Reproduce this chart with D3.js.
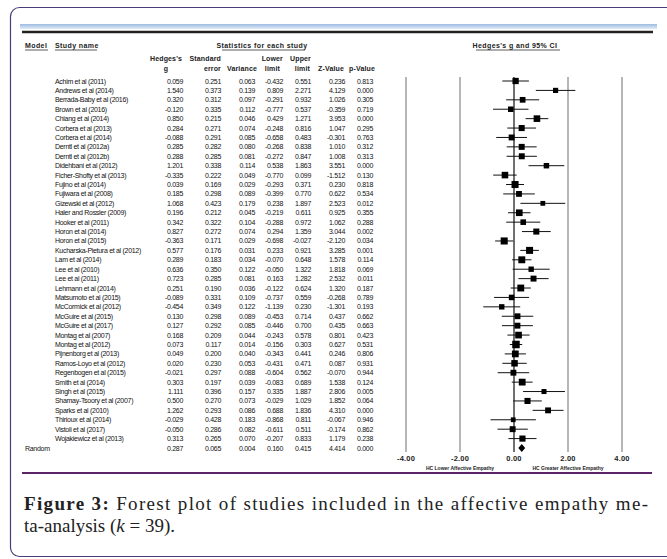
<!DOCTYPE html>
<html lang="en">

<head>
    <meta charset="UTF-8">
    <script src="https://d3js.org/d3.v7.min.js"></script>
    <title>Forest plot</title>
    <style>
        body { margin: 0; background: #fff; }
        .hdr { font-family: "Liberation Sans", Arial, sans-serif; font-weight: bold; font-size: 7px; letter-spacing: 0.15px; fill: #222; }
        .cell { font-family: "Liberation Sans", Arial, sans-serif; font-size: 7px; letter-spacing: -0.3px; fill: #111; }
        .cap { font-family: "Liberation Serif", "Times New Roman", serif; font-size: 19px; fill: #222; }
    </style>
</head>

<body>
    <script>
        // Study data
        var studies = ["Achim et al (2011)", "Andrews et al (2014)", "Berrada-Baby et al (2016)", "Brown et al (2016)",
            "Chiang et al (2014)", "Corbera et al (2013)", "Corbera et al (2014)", "Derntl et al (2012a)",
            "Derntl et al (2012b)", "Didehbani et al (2012)", "Ficher-Shofty et al (2013)", "Fujino et al (2014)",
            "Fujiwara et al (2008)", "Gizewski et al (2012)", "Haler and Rossler (2009)", "Hooker et al (2011)",
            "Horon et al (2014)", "Horon et al (2015)", "Kucharska-Pietura et al (2012)", "Lam et al (2014)",
            "Lee et al (2010)", "Lee et al (2011)", "Lehmann et al (2014)", "Matsumoto et al (2015)",
            "McCormick et al (2012)", "McGuire et al (2015)", "McGuire et al (2017)", "Montag et al (2007)",
            "Montag et al (2012)", "Pijnenborg et al (2013)", "Ramos-Loyo et al (2012)", "Regenbogen et al (2015)",
            "Smith et al (2014)", "Singh et al (2015)", "Shamay-Tsoory et al (2007)", "Sparks et al (2010)",
            "Thirioux et al (2014)", "Vistoli et al (2017)", "Wojakiewicz et al (2013)"];
        var hedgesG = [0.059, 1.540, 0.320, -0.120, 0.850, 0.284, -0.088, 0.285, 0.288, 1.201, -0.335, 0.039, 0.185,
            1.068, 0.196, 0.342, 0.827, -0.363, 0.577, 0.289, 0.636, 0.723, 0.251, -0.089, -0.454, 0.130, 0.127,
            0.168, 0.073, 0.049, 0.020, -0.021, 0.303, 1.111, 0.500, 1.262, -0.029, -0.050, 0.313];
        var stdErr = [0.251, 0.373, 0.312, 0.335, 0.215, 0.271, 0.291, 0.282, 0.285, 0.338, 0.222, 0.169, 0.298,
            0.423, 0.212, 0.322, 0.272, 0.171, 0.176, 0.183, 0.350, 0.285, 0.190, 0.331, 0.349, 0.298, 0.292,
            0.209, 0.117, 0.200, 0.230, 0.297, 0.197, 0.396, 0.270, 0.293, 0.428, 0.286, 0.265];
        var variance = [0.063, 0.139, 0.097, 0.112, 0.046, 0.074, 0.085, 0.080, 0.081, 0.114, 0.049, 0.029, 0.089,
            0.179, 0.045, 0.104, 0.074, 0.029, 0.031, 0.034, 0.122, 0.081, 0.036, 0.109, 0.122, 0.089, 0.085,
            0.044, 0.014, 0.040, 0.053, 0.088, 0.039, 0.157, 0.073, 0.086, 0.183, 0.082, 0.070];
        var lowerLimit = [-0.432, 0.809, -0.291, -0.777, 0.429, -0.248, -0.658, -0.268, -0.272, 0.538, -0.770, -0.293,
            -0.399, 0.238, -0.219, -0.288, 0.294, -0.698, 0.233, -0.070, -0.050, 0.163, -0.122, -0.737, -1.139,
            -0.453, -0.446, -0.243, -0.156, -0.343, -0.431, -0.604, -0.083, 0.335, -0.029, 0.688, -0.868, -0.611, -0.207];
        var upperLimit = [0.551, 2.271, 0.932, 0.537, 1.271, 0.816, 0.483, 0.838, 0.847, 1.863, 0.099, 0.371, 0.770,
            1.897, 0.611, 0.972, 1.359, -0.027, 0.921, 0.648, 1.322, 1.282, 0.624, 0.559, 0.230, 0.714, 0.700,
            0.578, 0.303, 0.441, 0.471, 0.562, 0.689, 1.887, 1.029, 1.836, 0.811, 0.511, 0.833];
        var zValue = [0.236, 4.129, 1.026, -0.359, 3.953, 1.047, -0.301, 1.010, 1.008, 3.551, -1.512, 0.230, 0.622,
            2.523, 0.925, 1.062, 3.044, -2.120, 3.285, 1.578, 1.818, 2.532, 1.320, -0.268, -1.301, 0.437, 0.435,
            0.801, 0.627, 0.246, 0.087, -0.070, 1.538, 2.806, 1.852, 4.310, -0.067, -0.174, 1.179];
        var pValue = [0.813, 0.000, 0.305, 0.719, 0.000, 0.295, 0.763, 0.312, 0.313, 0.000, 0.130, 0.818, 0.534,
            0.012, 0.355, 0.288, 0.002, 0.034, 0.001, 0.114, 0.069, 0.011, 0.187, 0.789, 0.193, 0.662, 0.663,
            0.423, 0.531, 0.806, 0.931, 0.944, 0.124, 0.005, 0.064, 0.000, 0.946, 0.862, 0.238];
        // Random-effects summary row
        var summary = { g: 0.287, se: 0.065, v: 0.004, lo: 0.160, hi: 0.415, z: 4.414, p: 0.000 };
        var axisTicks = [-4, -2, 0, 2, 4];

        var width = 667, height = 559;
        var fmt = function (d) { return d.toFixed(3); };

        var svg = d3.select("body").append("svg")
            .attr("width", width)
            .attr("height", height);

        // Frame and decorative rules
        var defs = svg.append("defs");
        var grad = defs.append("linearGradient").attr("id", "bar").attr("x1", 0).attr("y1", 0).attr("x2", 0).attr("y2", 1);
        grad.append("stop").attr("offset", "0%").attr("stop-color", "#9dbbe2");
        grad.append("stop").attr("offset", "100%").attr("stop-color", "#e3ecf8");

        svg.append("rect")
            .attr("x", 10.5).attr("y", 7.5)
            .attr("width", 700).attr("height", 549)
            .attr("rx", 9)
            .attr("fill", "none")
            .attr("stroke", "#4b3c78")
            .attr("stroke-width", 1.2);

        svg.append("rect")
            .attr("x", 20).attr("y", 24).attr("width", 637).attr("height", 5)
            .attr("fill", "url(#bar)");
        svg.append("line")
            .attr("x1", 22).attr("x2", 653).attr("y1", 32).attr("y2", 32)
            .attr("stroke", "#222").attr("stroke-width", 2.5);
        svg.append("line")
            .attr("x1", 22).attr("x2", 652).attr("y1", 473).attr("y2", 473)
            .attr("stroke", "#5c2466").attr("stroke-width", 2);

        // Header texts
        function hdr(txt, x, y, anchor) {
            return svg.append("text").attr("class", "hdr")
                .attr("x", x).attr("y", y)
                .attr("text-anchor", anchor || "start")
                .text(txt);
        }
        function underline(x1, x2, y) {
            svg.append("line").attr("x1", x1).attr("x2", x2).attr("y1", y).attr("y2", y)
                .attr("stroke", "#333").attr("stroke-width", 0.8);
        }
        hdr("Model", 25, 48).style("letter-spacing", "0.4px");
        underline(25, 48, 50);
        hdr("Study name", 55, 48).style("letter-spacing", "0.4px");
        underline(55, 97, 50);
        hdr("Statistics for each study", 262, 48, "middle").style("letter-spacing", "0.4px");
        underline(222, 305, 50);
        hdr("Hedges's g and 95% CI", 515, 48, "middle").style("letter-spacing", "0.4px");
        underline(476, 560, 50);

        hdr("Hedges's", 166, 61, "middle");
        hdr("g", 166, 71, "middle");
        hdr("Standard", 221, 61, "end");
        hdr("error", 221, 71, "end");
        hdr("Variance", 257, 71, "end");
        hdr("Lower", 283, 61, "end");
        hdr("limit", 280, 71, "end");
        hdr("Upper", 311, 61, "end");
        hdr("limit", 310, 71, "end");
        hdr("Z-Value", 344, 71, "end");
        hdr("p-Value", 375, 71, "end");

        // Row positions
        var rows = studies.concat(["Random"]);
        var y = d3.scalePoint().domain(d3.range(rows.length)).range([81, 448]);

        var table = studies.map(function (s, i) {
            return { name: s, g: hedgesG[i], se: stdErr[i], v: variance[i], lo: lowerLimit[i], hi: upperLimit[i], z: zValue[i], p: pValue[i] };
        });

        var colRight = [
            { key: "g", x: 183 }, { key: "se", x: 221 }, { key: "v", x: 255 }, { key: "lo", x: 283 },
            { key: "hi", x: 311 }, { key: "z", x: 345 }, { key: "p", x: 373 }
        ];

        var allRows = table.concat([Object.assign({ name: "Random" }, summary)]);

        var rowG = svg.selectAll("g.row").data(allRows).enter().append("g")
            .attr("class", "row")
            .attr("transform", function (d, i) { return "translate(0," + (y(i) + 2.5) + ")"; });

        rowG.append("text").attr("class", "cell")
            .attr("x", function (d) { return d.name === "Random" ? 25 : 55; })
            .text(function (d) { return d.name; });

        colRight.forEach(function (c) {
            rowG.append("text").attr("class", "cell")
                .attr("x", c.x)
                .attr("text-anchor", "end")
                .text(function (d) { return fmt(d[c.key]); });
        });

        // Forest plot
        var x = d3.scaleLinear().domain([-4, 4]).range([406, 622]);
        var plotTop = 77, plotBottom = 452;

        svg.selectAll("line.grid").data(axisTicks).enter().append("line")
            .attr("class", "grid")
            .attr("x1", function (d) { return x(d); })
            .attr("x2", function (d) { return x(d); })
            .attr("y1", plotTop).attr("y2", plotBottom)
            .attr("stroke", function (d) { return d === 0 ? "#222" : "#6e6e6e"; })
            .attr("stroke-width", function (d) { return d === 0 ? 1.3 : 1; });

        svg.selectAll("text.tick").data(axisTicks).enter().append("text")
            .attr("class", "hdr")
            .style("font-size", "7.5px")
            .style("letter-spacing", "0.2px")
            .attr("x", function (d) { return x(d); })
            .attr("y", 461)
            .attr("text-anchor", "middle")
            .text(function (d) { return d.toFixed(2); });

        svg.append("text").attr("class", "hdr")
            .style("font-size", "5px").style("letter-spacing", "0px")
            .attr("x", x(-2)).attr("y", 469.5).attr("text-anchor", "middle")
            .text("HC Lower Affective Empathy");
        svg.append("text").attr("class", "hdr")
            .style("font-size", "5px").style("letter-spacing", "0px")
            .attr("x", x(2)).attr("y", 469.5).attr("text-anchor", "middle")
            .text("HC Greater Affective Empathy");

        // Marker size from random-effects weight
        var tau2 = 0.1;
        var weight = function (d) { return 1 / (d.v + tau2); };
        var size = d3.scaleSqrt().domain([0, d3.max(table, weight)]).range([0, 7.5]);

        var plotRows = svg.selectAll("g.ci").data(table).enter().append("g")
            .attr("class", "ci")
            .attr("transform", function (d, i) { return "translate(0," + y(i) + ")"; });

        plotRows.append("line")
            .attr("x1", function (d) { return x(d.lo); })
            .attr("x2", function (d) { return x(d.hi); })
            .attr("stroke", "#111").attr("stroke-width", 1);

        plotRows.append("rect")
            .attr("x", function (d) { return x(d.g) - size(weight(d)) / 2; })
            .attr("y", function (d) { return -size(weight(d)) / 2; })
            .attr("width", function (d) { return size(weight(d)); })
            .attr("height", function (d) { return size(weight(d)); })
            .attr("fill", "#000");

        // Summary diamond
        var yr = y(studies.length);
        svg.append("path")
            .attr("d", "M" + x(summary.lo) + "," + yr + "L" + x(summary.g) + "," + (yr - 4) +
                "L" + x(summary.hi) + "," + yr + "L" + x(summary.g) + "," + (yr + 4) + "Z")
            .attr("fill", "#000");

        // Caption
        var cap1 = svg.append("text").attr("class", "cap")
            .attr("x", 24).attr("y", 510)
            .attr("textLength", 624).attr("lengthAdjust", "spacing");
        cap1.append("tspan").attr("font-weight", "bold").text("Figure 3:");
        cap1.append("tspan").text(" Forest plot of studies included in the affective empathy me-");

        var cap2 = svg.append("text").attr("class", "cap")
            .attr("x", 24).attr("y", 532);
        cap2.append("tspan").text("ta-analysis (");
        cap2.append("tspan").attr("font-style", "italic").text("k");
        cap2.append("tspan").text(" = 39).");
    </script>
</body>

</html>
